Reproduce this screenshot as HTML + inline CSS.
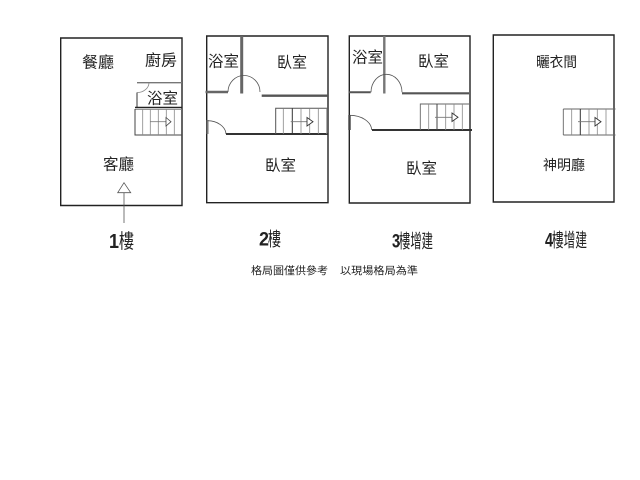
<!DOCTYPE html>
<html>
<head>
<meta charset="utf-8">
<style>
html,body{margin:0;padding:0;background:#fff;width:640px;height:480px;overflow:hidden}
svg{display:block}
text{font-family:"Liberation Sans","Noto Sans CJK TC",sans-serif;fill:#222;dominant-baseline:central}
</style>
</head>
<body>
<svg width="640" height="480" viewBox="0 0 640 480" xmlns="http://www.w3.org/2000/svg">
<rect width="640" height="480" fill="#fff"/>

<!-- Floor 1 -->
<g fill="none" stroke="#222" stroke-width="1.4">
<path d="M60.7 38H182V205.5H60.7Z"/>
</g>
<path d="M137 82.7H182" stroke="#777" stroke-width="1.4" fill="none"/>
<path d="M137 92.5V107" stroke="#777" stroke-width="1.5" fill="none"/>
<path d="M137 92.5A12 10 0 0 0 149 82.7" stroke="#888" stroke-width="0.8" fill="none"/>
<path d="M135 107.5H182" stroke="#222" stroke-width="1.4" fill="none"/>
<path d="M135 109.5H182" stroke="#777" stroke-width="0.8" fill="none"/>
<path d="M135 109V135H182" stroke="#444" stroke-width="1" fill="none"/>
<path d="M142.7 109V135M150.3 109V135M158.3 109V135M166.3 109V135M174.3 109V135" stroke="#888" stroke-width="0.8" fill="none"/>
<path d="M150 121.7H166" stroke="#777" stroke-width="0.8" fill="none"/>
<path d="M166 117.5L171 121.7L166 126Z" stroke="#444" stroke-width="0.8" fill="#fff"/>
<path d="M124 182.7L130.7 192.7H117.7Z" stroke="#555" stroke-width="0.8" fill="#fff"/>
<path d="M124 192.7V223" stroke="#555" stroke-width="0.8" fill="none"/>

<!-- Floor 2 -->
<path d="M206.7 36H328V202.7H206.7Z" fill="none" stroke="#222" stroke-width="1.4"/>
<path d="M241.7 36V93.5" stroke="#666" stroke-width="3" fill="none"/>
<path d="M205.5 92H228" stroke="#666" stroke-width="2.4" fill="none"/>
<path d="M261.7 95.7H328" stroke="#555" stroke-width="2.4" fill="none"/>
<path d="M228 92A16 16.5 0 0 1 260 92" stroke="#555" stroke-width="0.8" fill="none"/>
<path d="M207.5 120V134" stroke="#777" stroke-width="2" fill="none"/>
<path d="M207.5 120.7A18.5 14 0 0 1 226 134" stroke="#555" stroke-width="0.8" fill="none"/>
<path d="M226 134H328" stroke="#333" stroke-width="2" fill="none"/>
<path d="M275.7 134V108.3H328" stroke="#555" stroke-width="1" fill="none"/>
<path d="M283.3 108.3V134M301 108.3V134M309.7 108.3V134M318.3 108.3V134M326.7 108.3V134" stroke="#888" stroke-width="0.8" fill="none"/>
<path d="M292.3 108.3V134" stroke="#333" stroke-width="1" fill="none"/>
<path d="M290.7 121.7H307" stroke="#777" stroke-width="0.8" fill="none"/>
<path d="M307 117.5L313 121.7L307 126Z" stroke="#333" stroke-width="0.9" fill="#fff"/>

<!-- Floor 3 -->
<path d="M349.3 36H470V203H349.3Z" fill="none" stroke="#222" stroke-width="1.4"/>
<path d="M384.3 36V93.5" stroke="#777" stroke-width="2.4" fill="none"/>
<path d="M349 92.3H370.7" stroke="#555" stroke-width="2" fill="none"/>
<path d="M402 93.3H469" stroke="#555" stroke-width="2.2" fill="none"/>
<path d="M371 92.3A15.5 18 0 0 1 402 92.3" stroke="#555" stroke-width="0.8" fill="none"/>
<path d="M349.5 115V130" stroke="#444" stroke-width="2.4" fill="none"/>
<path d="M349.5 115.3A22 15 0 0 1 371.7 130" stroke="#555" stroke-width="0.8" fill="none"/>
<path d="M372 130H472" stroke="#333" stroke-width="2" fill="none"/>
<path d="M420.3 130V104H470" stroke="#666" stroke-width="0.9" fill="none"/>
<path d="M428.7 104V130M445.7 104V130M454 104V130M462.3 104V130" stroke="#888" stroke-width="0.8" fill="none"/>
<path d="M437 104V130" stroke="#444" stroke-width="1" fill="none"/>
<path d="M435 117.3H452" stroke="#777" stroke-width="0.8" fill="none"/>
<path d="M452 113L458 117.3L452 121.5Z" stroke="#333" stroke-width="0.9" fill="#fff"/>

<!-- Floor 4 -->
<path d="M493.3 35H614V202H493.3Z" fill="none" stroke="#222" stroke-width="1.4"/>
<path d="M563.3 109H615.5M563.3 135H615.5M563.3 109V135" stroke="#666" stroke-width="0.9" fill="none"/>
<path d="M571.7 109V135M589 109V135M597.3 109V135M606 109V135" stroke="#888" stroke-width="0.8" fill="none"/>
<path d="M580.3 109V135" stroke="#333" stroke-width="1" fill="none"/>
<path d="M578 121.7H595" stroke="#777" stroke-width="0.8" fill="none"/>
<path d="M595 117.5L601 121.7L595 126Z" stroke="#333" stroke-width="0.9" fill="#fff"/>

<!-- Labels -->
<g font-size="15.5">
<text x="82" y="63" textLength="32" lengthAdjust="spacingAndGlyphs">餐廳</text>
<text x="145" y="61" textLength="32" lengthAdjust="spacingAndGlyphs">廚房</text>
<text x="147" y="99" textLength="31" lengthAdjust="spacingAndGlyphs">浴室</text>
<text x="103" y="165" textLength="31" lengthAdjust="spacingAndGlyphs">客廳</text>
<text x="208" y="62" textLength="31" lengthAdjust="spacingAndGlyphs">浴室</text>
<text x="277" y="63" textLength="30" lengthAdjust="spacingAndGlyphs">臥室</text>
<text x="265" y="166" textLength="31" lengthAdjust="spacingAndGlyphs">臥室</text>
<text x="352" y="58" textLength="31" lengthAdjust="spacingAndGlyphs">浴室</text>
<text x="418" y="62" textLength="31" lengthAdjust="spacingAndGlyphs">臥室</text>
<text x="406" y="169" textLength="31" lengthAdjust="spacingAndGlyphs">臥室</text>
</g>
<g font-size="14">
<text x="536" y="62" textLength="41" lengthAdjust="spacingAndGlyphs">曬衣間</text>
<text x="543" y="165" textLength="42" lengthAdjust="spacingAndGlyphs">神明廳</text>
</g>

<!-- Floor titles -->
<g>
<text x="109" y="242" font-size="20" textLength="10" lengthAdjust="spacingAndGlyphs" font-weight="700">1</text>
<text x="119" y="242" font-size="20" textLength="15" lengthAdjust="spacingAndGlyphs">樓</text>
<text x="259" y="240" font-size="19" textLength="10" lengthAdjust="spacingAndGlyphs" font-weight="700">2</text>
<text x="268" y="240" font-size="19" textLength="13" lengthAdjust="spacingAndGlyphs">樓</text>
<text x="392" y="242" font-size="19" textLength="8" lengthAdjust="spacingAndGlyphs" font-weight="700">3</text>
<text x="399" y="242" font-size="19" textLength="34" lengthAdjust="spacingAndGlyphs">樓增建</text>
<text x="545" y="241" font-size="19" textLength="8" lengthAdjust="spacingAndGlyphs" font-weight="700">4</text>
<text x="552" y="241" font-size="19" textLength="35" lengthAdjust="spacingAndGlyphs">樓增建</text>
</g>

<g font-size="10.5">
<text x="251" y="271" textLength="77" lengthAdjust="spacingAndGlyphs">格局圖僅供參考</text>
<text x="340" y="271" textLength="78" lengthAdjust="spacingAndGlyphs">以現場格局為準</text>
</g>
</svg>
</body>
</html>
